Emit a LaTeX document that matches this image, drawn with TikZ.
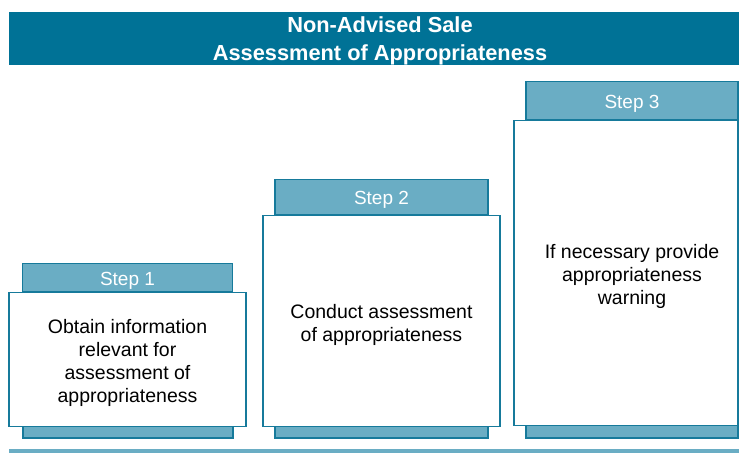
\documentclass[tikz,border=0pt]{standalone}
\usepackage{fontspec}
\setmainfont{Liberation Sans}
\usepackage{tikz}
\usetikzlibrary{positioning}
\definecolor{barclr}{RGB}{0,114,150}
\definecolor{tabclr}{RGB}{106,173,196}
\definecolor{edgeclr}{RGB}{22,122,155}

\tikzset{
  steptab/.style={draw=edgeclr, line width=1.2pt, fill=tabclr, inner sep=0pt},
  stepbox/.style={draw=edgeclr, line width=1.2pt, fill=white, inner sep=0pt},
  strip/.style={draw=edgeclr, line width=1.2pt, fill=tabclr},
  tabtext/.style={text=white, inner sep=0pt, font=\fontsize{19}{23}\selectfont},
  boxtext/.style={align=center, inner sep=0pt, font=\fontsize{19.5}{23}\selectfont},
}

\begin{document}
\begin{tikzpicture}[x=1pt,y=-1pt]
\useasboundingbox (0,0) rectangle (739,453);
% heading
\node[fill=barclr, inner sep=0pt, minimum width=742pt, minimum height=53pt] (title) at (380,38.5) {};
\node[text=white, align=center, inner sep=0pt, font=\bfseries\fontsize{21.8}{28}\selectfont]
  (titletext) at ([yshift=-2.5pt]title.center) {Non-Advised Sale\\Assessment of Appropriateness};
% base line
\fill[tabclr] (9,448.5) rectangle (751,453);

% strips under the boxes
\filldraw[strip] (23,420) rectangle (233,438);
\filldraw[strip] (275,420) rectangle (488,438);
\filldraw[strip] (526,420) rectangle (738,438);

% step 1
\node[stepbox, minimum width=237pt, minimum height=134pt] (box1) at (127.5,359.5) {};
\node[steptab, minimum width=210pt, minimum height=28pt, above=0pt of box1] (tab1) {};
% step 2
\node[stepbox, minimum width=237pt, minimum height=211pt] (box2) at (381.5,321) {};
\node[steptab, minimum width=213pt, minimum height=35pt, above=0pt of box2] (tab2) {};
% step 3
\node[stepbox, minimum width=224pt, minimum height=305pt] (box3) at (626,273) {};
\node[steptab, minimum width=212pt, minimum height=38pt, above=0pt of box3, xshift=6pt] (tab3) {};

% texts
\node[tabtext] (step1) at ([yshift=-3.5pt]tab1.center) {Step 1};
\node[tabtext] (step2) at ([yshift=-3.5pt]tab2.center) {Step 2};
\node[tabtext] (step3) at ([yshift=-3.5pt]tab3.center) {Step 3};
\node[boxtext] (text1) at ([yshift=-3.5pt]box1.center)
  {Obtain information\\relevant for\\assessment of\\appropriateness};
\node[boxtext] (text2) at ([yshift=-3.5pt]box2.center)
  {Conduct assessment\\of appropriateness};
\node[boxtext] (text3) at ([xshift=6pt,yshift=-3.5pt]box3.center)
  {If necessary provide\\appropriateness\\warning};
\end{tikzpicture}
\end{document}
